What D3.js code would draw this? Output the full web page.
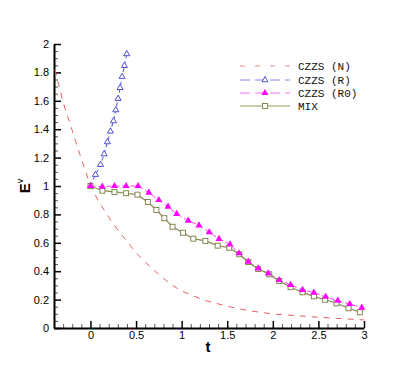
<!DOCTYPE html>
<html>
<head>
<meta charset="utf-8">
<script src="https://cdn.jsdelivr.net/npm/d3@7"></script>
<style>
  body { margin: 0; background: #fff; }
  .tick text { font-family: "Liberation Sans", Arial, sans-serif; font-size: 11px; fill: #000; }
  .legend text { font-family: "Liberation Mono", "Courier New", monospace; font-size: 11px; fill: #111; }
</style>
</head>
<body>
<div id="chart"></div>
<script>
// tick labels
const xTicks = [0, 0.5, 1, 1.5, 2, 2.5, 3];
const yTicks = [0, 0.2, 0.4, 0.6, 0.8, 1, 1.2, 1.4, 1.6, 1.8, 2];

// CZZS (N) - dashed red, no markers
const nT = [-0.39, -0.3, -0.2, -0.1, 0, 0.1, 0.2, 0.3, 0.4, 0.5, 0.6, 0.7, 0.8, 0.9, 1.0, 1.25, 1.5, 1.75, 2.0, 2.25, 2.5, 2.75, 3.0];
const nY = [1.82, 1.59, 1.39, 1.19, 1.0, 0.88, 0.78, 0.69, 0.61, 0.53, 0.465, 0.405, 0.35, 0.30, 0.26, 0.195, 0.153, 0.12, 0.099, 0.087, 0.076, 0.066, 0.057];

// CZZS (R)
const rT = [0, 0.055, 0.11, 0.15, 0.186, 0.219, 0.252, 0.278, 0.303, 0.325, 0.347, 0.372, 0.398];
const rY = [1.0, 1.08, 1.15, 1.225, 1.31, 1.385, 1.458, 1.535, 1.615, 1.692, 1.77, 1.847, 1.93];

// CZZS (R0)
const r0T = [0, 0.13, 0.263, 0.391, 0.522, 0.64, 0.749, 0.851, 0.946, 1.073, 1.19, 1.303, 1.41, 1.53, 1.629, 1.73, 1.84, 1.95, 2.07, 2.195, 2.326, 2.45, 2.58, 2.713, 2.844, 2.976];
const r0Y = [1.0, 0.995, 1.0, 1.0, 1.0, 0.953, 0.901, 0.854, 0.803, 0.756, 0.723, 0.674, 0.627, 0.589, 0.526, 0.467, 0.42, 0.385, 0.338, 0.303, 0.268, 0.249, 0.22, 0.192, 0.169, 0.143];

// MIX
const mixT = [0, 0.131, 0.263, 0.391, 0.515, 0.629, 0.723, 0.81, 0.9, 1.015, 1.128, 1.26, 1.395, 1.522, 1.632, 1.73, 1.84, 1.961, 2.07, 2.195, 2.326, 2.45, 2.574, 2.699, 2.83, 2.954];
const mixY = [1.0, 0.967, 0.958, 0.949, 0.939, 0.887, 0.831, 0.773, 0.713, 0.671, 0.629, 0.613, 0.58, 0.565, 0.519, 0.465, 0.415, 0.378, 0.331, 0.287, 0.251, 0.223, 0.199, 0.174, 0.139, 0.111];

const legendNames = ["CZZS (N)", "CZZS (R)", "CZZS (R0)", "MIX"];

const W = 415, H = 369;
const svg = d3.select("#chart").append("svg")
    .attr("width", W)
    .attr("height", H);

const x = d3.scaleLinear().domain([-0.4, 3]).range([54, 364]);
const y = d3.scaleLinear().domain([0, 2]).range([328, 44]);

const zip = (a, b) => a.map((t, i) => ({ t: t, v: b[i] }));

// minor ticks
const xMinor = d3.range(-3, 31).map(i => i / 10).filter(d => Math.abs(d * 2 - Math.round(d * 2)) > 1e-6);
const yMinor = d3.range(1, 40).map(i => i / 20).filter(d => Math.abs(d * 5 - Math.round(d * 5)) > 1e-6);

svg.append("g")
    .attr("transform", "translate(0,328)")
    .call(d3.axisBottom(x).tickValues(xMinor).tickSize(-4).tickFormat(""))
    .call(g => g.select(".domain").remove())
    .selectAll("line").attr("stroke", "#555");

svg.append("g")
    .attr("transform", "translate(54,0)")
    .call(d3.axisLeft(y).tickValues(yMinor).tickSize(-4).tickFormat(""))
    .call(g => g.select(".domain").remove())
    .selectAll("line").attr("stroke", "#555");

const xAxis = svg.append("g")
    .attr("transform", "translate(0,328)")
    .call(d3.axisBottom(x).tickValues(xTicks).tickSize(-7).tickSizeOuter(0).tickPadding(3).tickFormat(d => d));
xAxis.select(".domain").attr("stroke-width", 2);
xAxis.selectAll(".tick line").attr("stroke-width", 1.5);

const yAxis = svg.append("g")
    .attr("transform", "translate(54,0)")
    .call(d3.axisLeft(y).tickValues(yTicks).tickSize(-7).tickSizeOuter(0).tickPadding(5).tickFormat(d => d));
yAxis.select(".domain").attr("stroke-width", 2);
yAxis.selectAll(".tick line").attr("stroke-width", 1.5);

// axis titles
svg.append("text")
    .attr("x", 208).attr("y", 352)
    .attr("text-anchor", "middle")
    .style("font-family", "Liberation Sans, Arial, sans-serif")
    .style("font-size", "15px")
    .style("font-weight", "bold")
    .text("t");

const yLab = svg.append("text")
    .attr("transform", "translate(30,186) rotate(-90)")
    .attr("text-anchor", "middle")
    .style("font-family", "Liberation Sans, Arial, sans-serif")
    .style("font-size", "15px")
    .style("font-weight", "bold");
yLab.append("tspan").text("E");
yLab.append("tspan").attr("dy", -7).style("font-size", "9px").style("font-weight", "normal").text("v");

const line = d3.line().x(d => x(d.t)).y(d => y(d.v));

const series = [
    { data: zip(nT, nY), color: "#e86060", dash: "6,6", width: 1 },
    { data: zip(rT, rY), color: "#5050d8", dash: "4,3", width: 1 },
    { data: zip(r0T, r0Y), color: "#ff40ff", dash: "5,3", width: 1 },
    { data: zip(mixT, mixY), color: "#8c8c50", dash: null, width: 1.2 }
];

series.forEach(s => {
    svg.append("path")
        .datum(s.data)
        .attr("fill", "none")
        .attr("stroke", s.color)
        .attr("stroke-width", s.width)
        .attr("stroke-dasharray", s.dash)
        .attr("d", line);
});

const tri = d3.symbol(d3.symbolTriangle);

// blue open triangles
svg.selectAll(".r-mark")
    .data(series[1].data)
    .enter().append("path")
    .attr("class", "r-mark")
    .attr("transform", d => `translate(${x(d.t)},${y(d.v)})`)
    .attr("d", tri.size(16)())
    .attr("fill", "#fff")
    .attr("stroke", "#4040d0")
    .attr("stroke-width", 0.9);

// olive squares
svg.selectAll(".mix-mark")
    .data(series[3].data)
    .enter().append("rect")
    .attr("class", "mix-mark")
    .attr("x", d => x(d.t) - 2.5)
    .attr("y", d => y(d.v) - 2.5)
    .attr("width", 5)
    .attr("height", 5)
    .attr("fill", "#fff")
    .attr("stroke", "#7c7c40")
    .attr("stroke-width", 0.9);

// magenta filled triangles
svg.selectAll(".r0-mark")
    .data(series[2].data)
    .enter().append("path")
    .attr("class", "r0-mark")
    .attr("transform", d => `translate(${x(d.t)},${y(d.v)})`)
    .attr("d", tri.size(22)())
    .attr("fill", "#ff00ff");

// legend
const legend = svg.append("g").attr("class", "legend");
const rowsY = [66, 80, 93, 106];
const legendColors = ["#f08888", "#8888e8", "#ff70ff", "#9a9a60"];
legendNames.forEach((name, i) => {
    const ly = rowsY[i];
    legend.append("line")
        .attr("x1", 240).attr("x2", 290)
        .attr("y1", ly).attr("y2", ly)
        .attr("stroke", legendColors[i])
        .attr("stroke-width", 1)
        .attr("stroke-dasharray", i === 0 ? "5,10" : (i === 3 ? null : "10,5"));
    if (i === 1) {
        legend.append("path")
            .attr("transform", `translate(265,${ly})`)
            .attr("d", tri.size(16)())
            .attr("fill", "#fff").attr("stroke", "#4040d0").attr("stroke-width", 0.9);
    } else if (i === 2) {
        legend.append("path")
            .attr("transform", `translate(265,${ly})`)
            .attr("d", tri.size(22)())
            .attr("fill", "#ff00ff");
    } else if (i === 3) {
        legend.append("rect")
            .attr("x", 262.5).attr("y", ly - 2.5)
            .attr("width", 5).attr("height", 5)
            .attr("fill", "#fff").attr("stroke", "#7c7c40").attr("stroke-width", 0.9);
    }
    legend.append("text")
        .attr("x", 298).attr("y", ly)
        .attr("dy", "0.35em")
        .text(name);
});
</script>
</body>
</html>
